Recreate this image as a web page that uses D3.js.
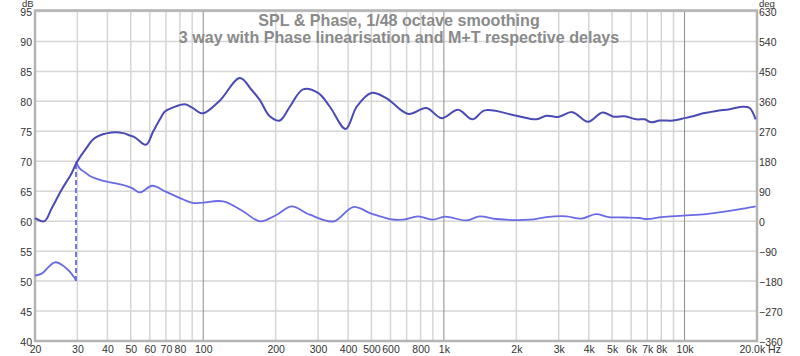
<!DOCTYPE html>
<html><head><meta charset="utf-8">
<script src="https://cdn.jsdelivr.net/npm/d3@7"></script>
<style>
html,body{margin:0;padding:0;background:#fff;}
svg{display:block;font-family:"Liberation Sans",Arial,sans-serif;}
</style></head>
<body><svg id="c" width="800" height="356"></svg>
<script>
// ---- data ----
const titleLines = ["SPL & Phase, 1/48 octave smoothing", "3 way with Phase linearisation and M+T respective delays"];
const splFreq = [20,21.9,23.5,25.8,28.4,29.8,32.3,35.5,41.6,46.5,49.6,52.0,57.8,62.0,66.1,69.3,75.1,83.9,90.4,99.4,117,142,159,172,189,208,229,260,300,336,391,434,500,578,710,847,977,1146,1314,1479,2002,2424,2668,2980,3420,3972,4558,5077,5638,6305,6830,7281,7880,8950,10008,10838,11926,13554,15392,17482,18640,19740];
const splDb   = [60.5,60.0,62.2,65.25,68.0,69.8,71.9,73.9,74.8,74.7,74.3,74.0,72.75,75.0,77.0,78.3,79.0,79.5,78.9,78.0,80.1,83.9,81.9,80.2,77.5,76.8,79.1,82.0,81.4,79.1,75.4,79.1,81.4,80.5,77.9,78.9,77.2,78.6,77.0,78.5,77.6,77.0,77.6,77.4,78.2,76.6,78.15,77.45,77.5,77.0,77.0,76.5,76.8,76.8,77.2,77.5,78.0,78.4,78.7,79.1,78.9,77.0];
// phase: low segment (before wrap), high segment (after wrap)
const phaseLoFreq = [20,21.3,24.2,26.6,29.2,29.6];
const phaseLoDeg  = [-163.5,-157.5,-123.5,-137.5,-170,-180];
const phaseHiFreq = [29.6,30.8,32.3,33.8,37.8,45.8,50.4,54.6,61.4,69.8,80.0,90.9,100,121,147,172,202,233,277,349,420,500,596,677,781,902,1009,1241,1409,1654,2274,2668,3228,3727,4275,4838,5638,6511,6958,8032,9848,12318,14914,17482,19740];
const phaseHiDeg  = [180,157,146.5,136,122.5,109.5,100,86.5,106.5,89,69.5,54.5,56,59.5,29,-0.5,19.5,44.5,19.5,-0.5,42.5,22.5,6.5,4.5,14.5,4.5,13.5,2.5,14.5,6.5,4.5,12.5,14.5,7.5,21,12.5,11,9.5,6.5,12,16.5,21.5,29.5,37.5,44.5];
const wrapFreq = 29.6;
const dbTicks  = [40,45,50,55,60,65,70,75,80,85,90,95];
const degTicks = [-360,-270,-180,-90,0,90,180,270,360,450,540,630];
const xTickVals   = [20,30,40,50,60,70,80,100,200,300,400,500,600,800,1000,2000,3000,4000,5000,6000,7000,8000,10000,20000];
const xTickLabels = ["20","30","40","50","60","70","80","100","200","300","400","500","600","800","1k","2k","3k","4k","5k","6k","7k","8k","10k","20.0k Hz"];
const minorGrid = [30,40,50,60,70,80,90,200,300,400,500,600,700,800,900,2000,3000,4000,5000,6000,7000,8000,9000];
const majorGrid = [100,1000,10000];

// ---- layout ----
const L = 35, R = 757, T = 11.5, B = 341;
const svg = d3.select("#c");
const x = d3.scaleLog().domain([20,20000]).range([L,R]);
const yDb = d3.scaleLinear().domain([40,95]).range([B,T]);
const yDeg = d3.scaleLinear().domain([-360,630]).range([B,T]);

const grid = svg.append("g");
grid.selectAll("line.h").data(dbTicks).enter().append("line")
  .attr("x1",L).attr("x2",R).attr("y1",d=>yDb(d)).attr("y2",d=>yDb(d))
  .attr("stroke","#d6d6d6").attr("stroke-width",1.5);
grid.selectAll("line.v").data(minorGrid).enter().append("line")
  .attr("x1",d=>x(d)).attr("x2",d=>x(d)).attr("y1",T).attr("y2",B)
  .attr("stroke","#d6d6d6").attr("stroke-width",1.5);
grid.selectAll("line.m").data(majorGrid).enter().append("line")
  .attr("x1",d=>x(d)).attr("x2",d=>x(d)).attr("y1",T).attr("y2",B)
  .attr("stroke","#8c8c8c").attr("stroke-width",1);

// frame
svg.append("rect").attr("x",L).attr("y",T-1).attr("width",R-L).attr("height",B-T+1)
  .attr("fill","none").attr("stroke","#b4b4b4").attr("stroke-width",2.5);

// title
svg.append("g").selectAll("text").data(titleLines).enter().append("text")
  .attr("x",399).attr("y",(d,i)=>26+i*17).attr("text-anchor","middle")
  .attr("font-size",16.1).attr("font-weight","bold").attr("fill","#8a8a8a").text(d=>d);

// axes
const axStyle = g => { g.select(".domain").remove(); g.selectAll("line").remove();
  g.selectAll("text").attr("font-size",10.5).attr("fill","#333").attr("font-family","'Liberation Sans',Arial,sans-serif"); };
svg.append("g").attr("transform",`translate(${L-3},1)`)
  .call(d3.axisLeft(yDb).tickValues(dbTicks).tickSize(0).tickPadding(0).tickFormat(d3.format("d"))).call(axStyle);
svg.append("g").attr("transform",`translate(${R+2},1)`)
  .call(d3.axisRight(yDeg).tickValues(degTicks).tickSize(0).tickPadding(0).tickFormat(d3.format("d"))).call(axStyle);
const xa = svg.append("g").attr("transform",`translate(0,${B+1})`)
  .call(d3.axisBottom(x).tickValues(xTickVals).tickSize(0).tickPadding(4).tickFormat((d,i)=>xTickLabels[i])).call(axStyle);
xa.selectAll("text").filter((d,i)=>i===xTickVals.length-1).attr("text-anchor","start").attr("dx",-18);
svg.append("text").attr("x",22).attr("y",6.5).attr("font-size",9.5).attr("fill","#333").text("dB");
svg.append("text").attr("x",759).attr("y",6.5).attr("font-size",9.5).attr("fill","#333").text("deg");

// curves
const plot = svg.append("g");
const splLine = d3.line().x((d,i)=>x(splFreq[i])).y(d=>yDb(d)).curve(d3.curveCatmullRom.alpha(0.5));
const phLo = d3.line().x((d,i)=>x(phaseLoFreq[i])).y(d=>yDeg(d)).curve(d3.curveCatmullRom.alpha(0.5));
const phHi = d3.line().x((d,i)=>x(phaseHiFreq[i])).y(d=>yDeg(d)).curve(d3.curveCatmullRom.alpha(0.5));
plot.append("path").attr("d",phLo(phaseLoDeg)).attr("fill","none").attr("stroke","#6a6ae2").attr("stroke-width",1.8);
plot.append("path").attr("d",phHi(phaseHiDeg)).attr("fill","none").attr("stroke","#6a6ae2").attr("stroke-width",1.8);
plot.append("line").attr("x1",x(wrapFreq)).attr("x2",x(wrapFreq))
  .attr("y1",yDeg(phaseLoDeg[phaseLoDeg.length-1])).attr("y2",yDeg(phaseHiDeg[0]))
  .attr("stroke","#6a6ae2").attr("stroke-width",1.8).attr("stroke-dasharray","5,3");
plot.append("path").attr("d",splLine(splDb)).attr("fill","none").attr("stroke","#4a4ab4").attr("stroke-width",2);
</script></body></html>
